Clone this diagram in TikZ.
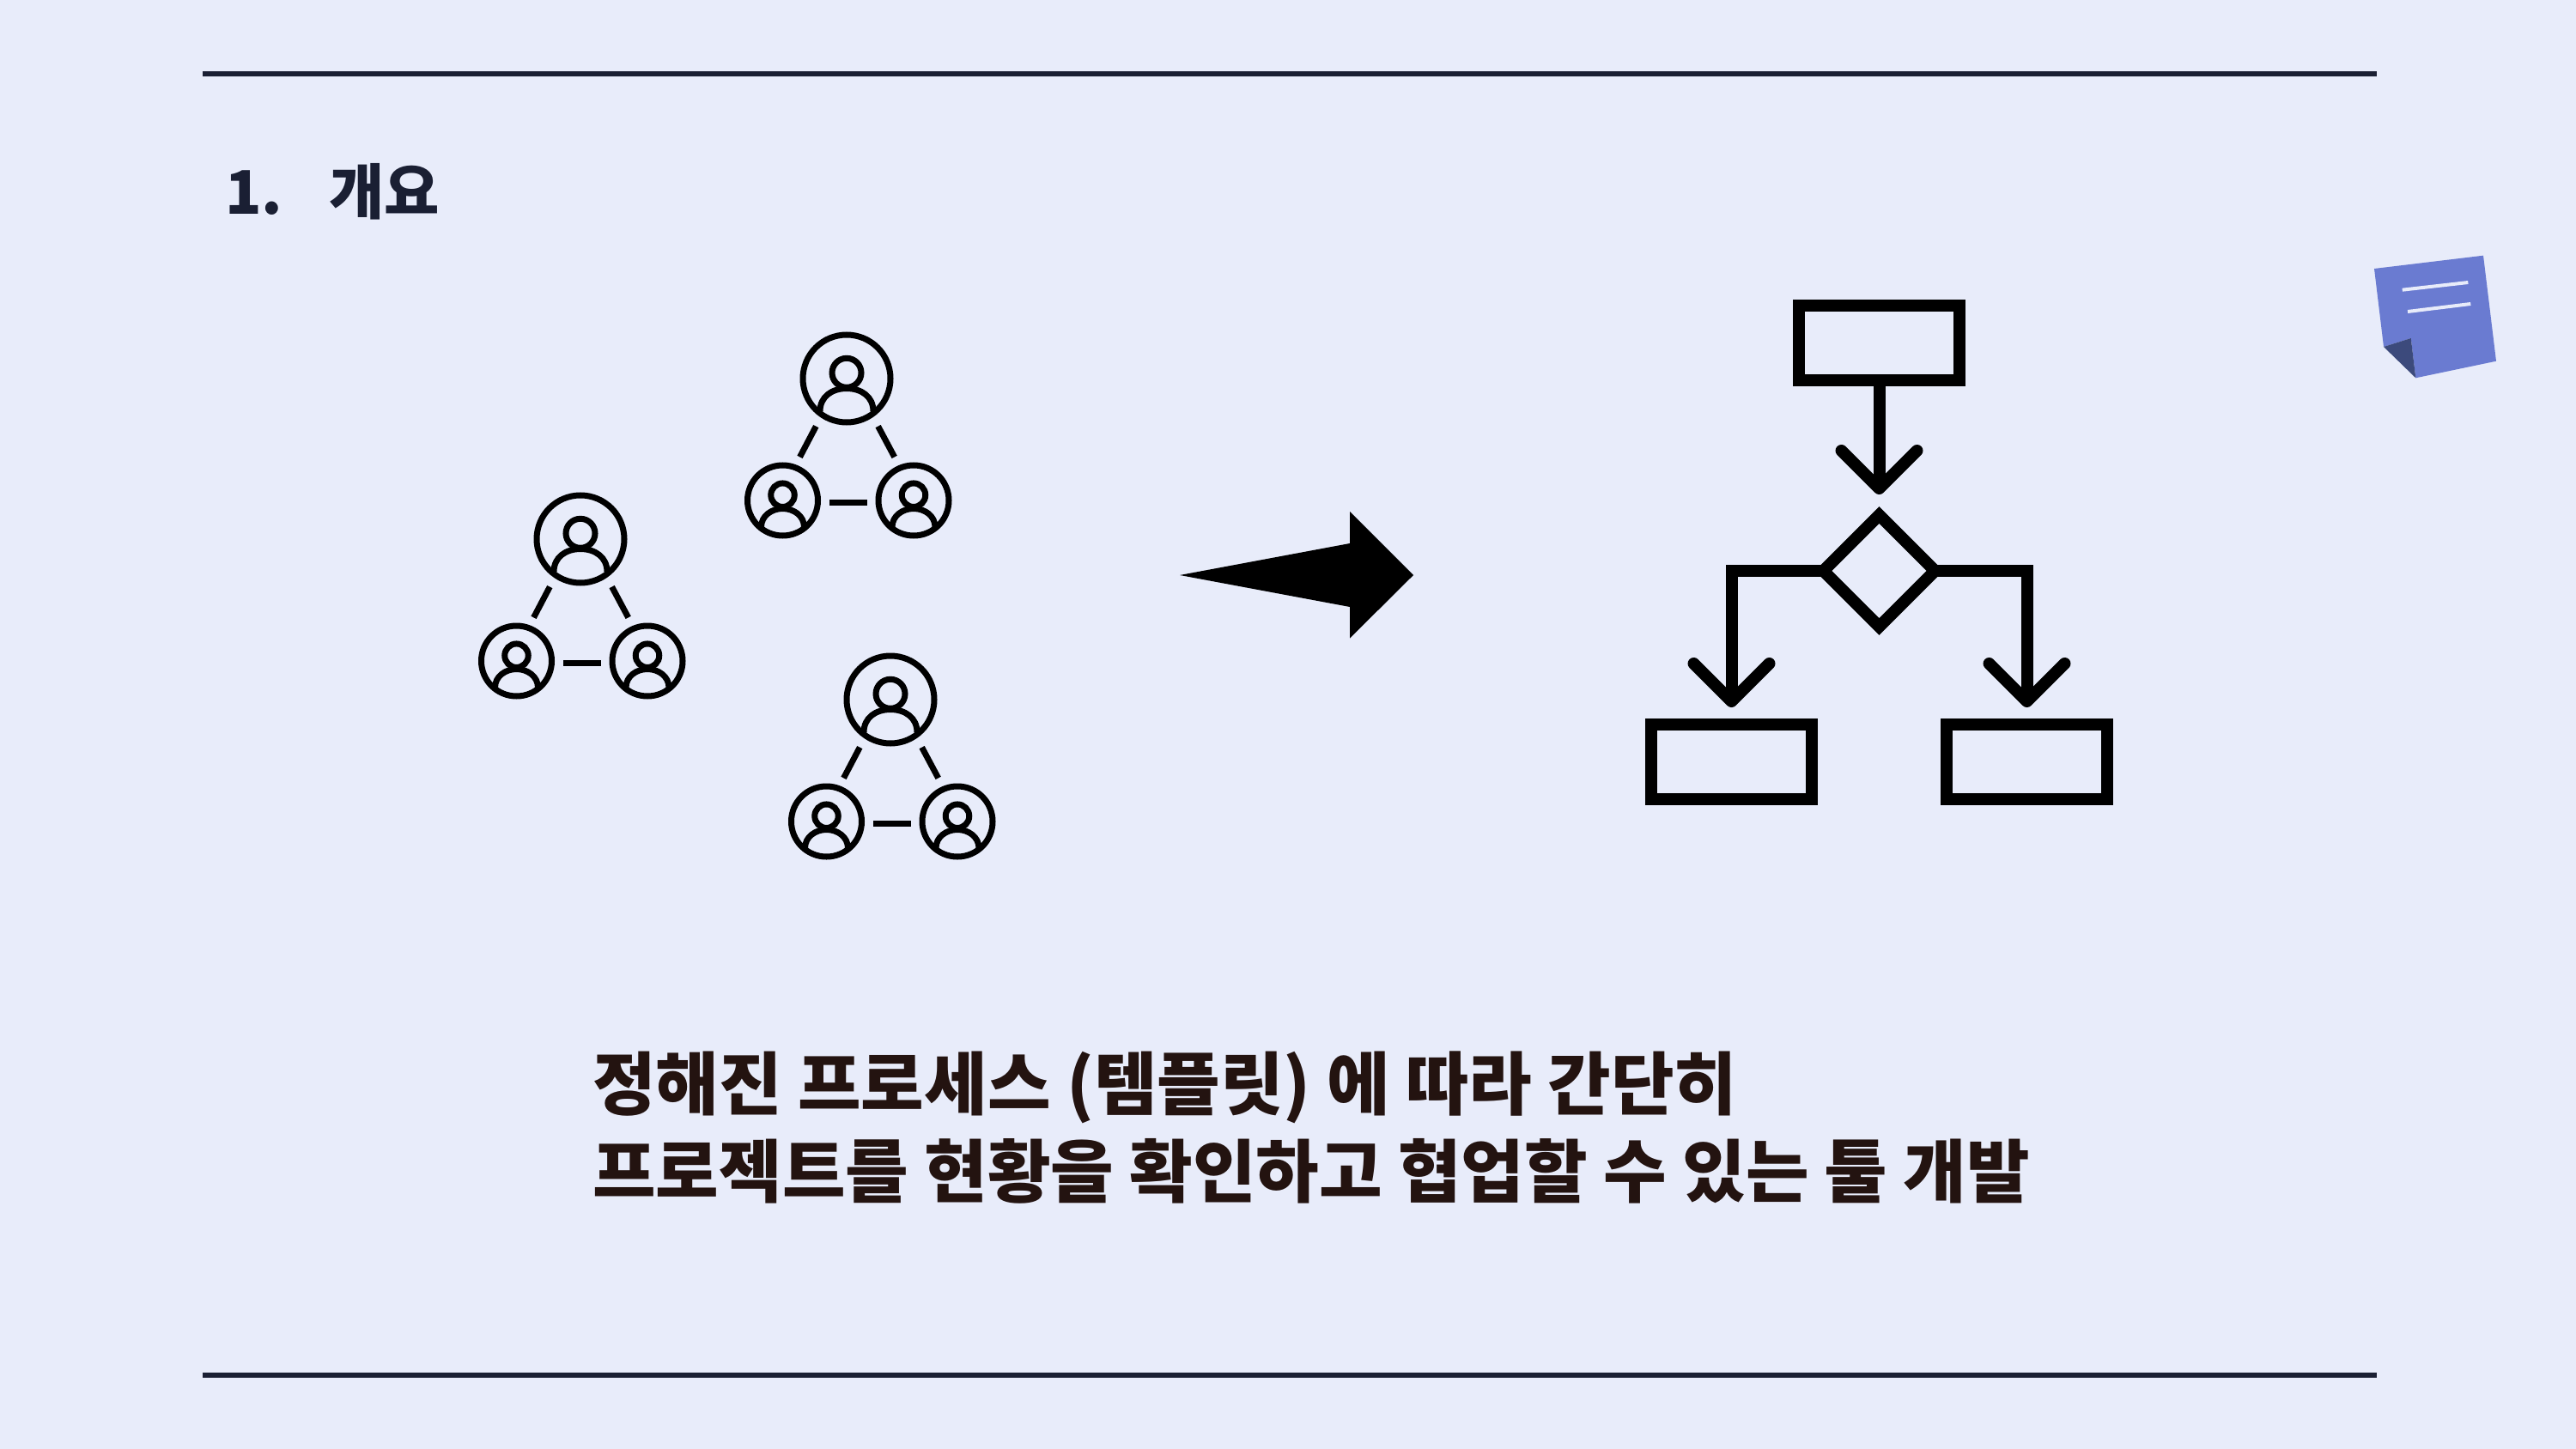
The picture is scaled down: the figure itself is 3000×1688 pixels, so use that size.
\documentclass[tikz,border=0pt]{standalone}
\usepackage{fontspec}
\newfontfamily\kr{Noto Sans CJK KR}
\usetikzlibrary{shapes.geometric}
\definecolor{bg}{HTML}{E8ECFA}
\definecolor{ruleink}{HTML}{1A1F33}
\definecolor{bodyink}{HTML}{231310}
\definecolor{noteblue}{HTML}{6A7BD1}
\definecolor{notedark}{HTML}{3C4A7C}
\tikzset{
  ruleline/.style={draw=ruleink,line width=6.5pt},
  ring/.style={circle,draw=black,line width=7pt,inner sep=0pt,outer sep=0pt},
  iconline/.style={draw=black,line width=7pt},
  boxnode/.style={rectangle,draw=black,line width=14pt,minimum width=187pt,minimum height=87pt,inner sep=0pt,outer sep=0pt},
  flow/.style={draw=black,line width=14pt,miter limit=10},
  barb/.style={draw=black,line width=14pt,line cap=round,line join=round},
  personA/.pic={
    \node[ring,minimum size=34pt] (-head) at (0,-6.7) {};
    \draw[iconline] (-31,38) .. controls (-31,21) and (-17,11.5) .. (0,11.5) .. controls (17,11.5) and (31,21) .. (31,38);
    \node[ring,minimum size=102pt] (-ring) at (0,0) {};
  },
  personB/.pic={
    \node[ring,minimum size=27.5pt] (-head) at (0,-6.3) {};
    \draw[iconline] (-25,31) .. controls (-25,18) and (-13,9.5) .. (0,9.5) .. controls (13,9.5) and (25,18) .. (25,31);
    \node[ring,minimum size=82pt] (-ring) at (0,0) {};
  },
  team/.pic={
    \pic (-top) at (0,0) {personA};
    \pic (-left) at (-74.5,142) {personB};
    \pic (-right) at (78,142) {personB};
    \coordinate (-a1) at (-35.7,55.6); \coordinate (-a2) at (-54.5,91.4);
    \coordinate (-b1) at (36.6,55.6);  \coordinate (-b2) at (55.7,91.4);
    \coordinate (-c1) at (-19.6,144);  \coordinate (-c2) at (23.6,144);
    \draw[iconline] (-a1) -- (-a2);
    \draw[iconline] (-b1) -- (-b2);
    \draw[iconline] (-c1) -- (-c2);
  },
}
\begin{document}
\begin{tikzpicture}[x=1pt,y=-1pt]
\useasboundingbox (0,0) rectangle (3000,1688);
\fill[bg] (0,0) rectangle (3000,1688);
% rules
\coordinate (rt1) at (236,86); \coordinate (rt2) at (2768,86);
\coordinate (rb1) at (236,1602); \coordinate (rb2) at (2768,1602);
\draw[ruleline] (rt1) -- (rt2);
\draw[ruleline] (rb1) -- (rb2);
% heading
\node[anchor=base west,inner sep=0pt,text=ruleink] (num) at (262,250) {\kr\bfseries\fontsize{70pt}{74pt}\selectfont 1.};
\node[anchor=base west,inner sep=0pt,text=ruleink] (title) at (383,250) {\kr\bfseries\fontsize{70pt}{74pt}\selectfont 개요};
% teams
\pic (ta) at (986,441) {team};
\pic (tb) at (676,628) {team};
\pic (tc) at (1037,815) {team};
% big arrow
\fill[black] (1374,670) -- (1572,633) -- (1572,596) -- (1646,670) -- (1572,743.5) -- (1572,707) -- cycle;
% flowchart
\node[boxnode] (start) at (2188.5,399.5) {};
\node[boxnode] (yes) at (2016.5,887.5) {};
\node[boxnode] (no) at (2360.5,887.5) {};
\node[diamond,draw=black,line width=14pt,minimum width=130pt,minimum height=130pt,inner sep=0pt,outer sep=0pt,aspect=1] (dec) at (2188.5,665) {};
\coordinate (tip0) at (2188.5,569);
\coordinate (tip1) at (2016.5,817);
\coordinate (tip2) at (2360.5,817);
\draw[flow] (start.south) -- (tip0);
\draw[flow] (dec.west) -| (tip1);
\draw[flow] (dec.east) -| (tip2);
\draw[barb] ([shift={(-44,-44)}]tip0) -- (tip0) -- ([shift={(44,-44)}]tip0);
\draw[barb] ([shift={(-44,-44)}]tip1) -- (tip1) -- ([shift={(44,-44)}]tip1);
\draw[barb] ([shift={(-44,-44)}]tip2) -- (tip2) -- ([shift={(44,-44)}]tip2);
% sticky note
\fill[noteblue] (2765,313) -- (2892,297.7) -- (2907,420.7) -- (2813.3,440.3) -- (2807.7,394) -- (2776,404) -- cycle;
\fill[notedark] (2776,404) -- (2807.7,394) -- (2813.3,440.3) -- cycle;
\draw[bg,line width=4pt] (2797.7,337.7) -- (2874.3,329);
\draw[bg,line width=4pt] (2804,363) -- (2877.3,354);
% body text
\node[anchor=base west,inner sep=0pt,text=bodyink] (l1) at (690,1292) {\kr\bfseries\fontsize{80pt}{86pt}\selectfont 정해진 프로세스 (템플릿) 에 따라 간단히};
\node[anchor=base west,inner sep=0pt,text=bodyink] (l2) at (690,1394) {\kr\bfseries\fontsize{80pt}{86pt}\selectfont 프로젝트를 현황을 확인하고 협업할 수 있는 툴 개발};
\end{tikzpicture}
\end{document}
